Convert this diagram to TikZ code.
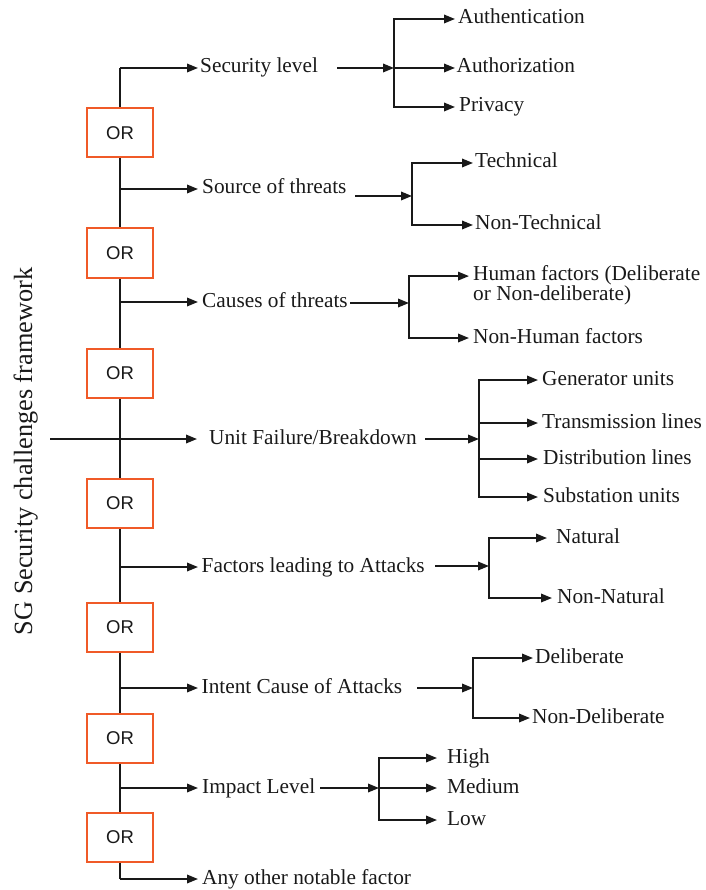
\documentclass[tikz,border=0pt]{standalone}
\usepackage{fontspec}
\setmainfont{Liberation Serif}
\newfontfamily\orfont{Liberation Sans}
\usetikzlibrary{arrows.meta}
\definecolor{orline}{RGB}{240,90,40}
\definecolor{inkc}{RGB}{25,25,25}
\begin{document}
\begin{tikzpicture}[x=1pt,y=-1pt,
  ln/.style={line width=1.8pt, draw=inkc},
  arr/.style={ln, -{Triangle[length=11pt,width=8.5pt]}},
  lbl/.style={anchor=west, inner ysep=1pt, inner xsep=#1, text=inkc,
    font=\fontsize{21.3}{24}\selectfont, text height=15pt, text depth=5pt},
  lbl/.default=2pt,
  lbltwo/.style={anchor=west, inner ysep=0pt, inner xsep=#1, align=left, text=inkc,
    font=\fontsize{21.3}{20}\selectfont},
  orbox/.style={draw=orline, line width=2pt, fill=white, minimum width=66pt,
    minimum height=49pt, inner sep=0pt, text=inkc, font=\orfont\fontsize{18.5}{20}\selectfont},
  sidelabel/.style={rotate=90, anchor=base, inner sep=0pt, text=inkc,
    font=\fontsize{26.3}{28}\selectfont}
]
\useasboundingbox (0,0) rectangle (705,890);

% side label
\node[sidelabel] (title) at (32,451.5) {SG Security challenges framework};

% main spine
\coordinate (top) at (120,68);
\coordinate (bot) at (120,879);
\draw[ln] (top) -- (bot);

% first-level items
\node[lbl=2pt] (sec) at (198,68) {Security level};
\draw[arr] (top) -- (sec.west);

\coordinate (m2) at (120,189);
\node[lbl=4pt] (src) at (198,189) {Source of threats};
\draw[arr] (m2) -- (src.west);

\coordinate (m3) at (120,302);
\node[lbl=4pt] (cau) at (198,302) {Causes of threats};
\draw[arr] (m3) -- (cau.west);

\coordinate (uin) at (50,439);
\node[lbl=12pt] (unit) at (197,439) {Unit Failure/Breakdown};
\draw[arr] (uin) -- (unit.west);

\coordinate (m5) at (120,567);
\node[lbl=3.5pt] (fac) at (198,567) {Factors leading to Attacks};
\draw[arr] (m5) -- (fac.west);

\coordinate (m6) at (120,688);
\node[lbl=3.5pt] (int) at (198,688) {Intent Cause of Attacks};
\draw[arr] (m6) -- (int.west);

\coordinate (m7) at (120,788);
\node[lbl=4pt] (imp) at (198,788) {Impact Level};
\draw[arr] (m7) -- (imp.west);

\node[lbl=4pt] (any) at (198,879) {Any other notable factor};
\draw[arr] (bot) -- (any.west);

% OR gates
\foreach \i/\yy in {1/133,2/253,3/373,4/503,5/627,6/738,7/837}{
  \node[orbox] (or\i) at (120,\yy) {OR};
}

% Security level branch
\coordinate (s1) at (337,68);
\coordinate (b1) at (394,68);
\draw[arr] (s1) -- (b1);
\node[lbl=3pt] (auth) at (455,19) {Authentication};
\node[lbl=1.5pt] (authz) at (455,68) {Authorization};
\node[lbl=4pt] (priv) at (455,107) {Privacy};
\draw[arr] (b1) |- (auth.west);
\draw[arr] (b1) -- (authz.west);
\draw[arr] (b1) |- (priv.west);

% Source of threats branch
\coordinate (s2) at (355,196);
\coordinate (b2) at (412,196);
\draw[arr] (s2) -- (b2);
\node[lbl=2pt] (tech) at (473,163) {Technical};
\node[lbl=2pt] (ntech) at (473,225) {Non-Technical};
\draw[arr] (b2) |- (tech.west);
\draw[arr] (b2) |- (ntech.west);

% Causes of threats branch
\coordinate (s3) at (350,303);
\coordinate (b3) at (409,303);
\draw[arr] (s3) -- (b3);
\node[lbltwo=4pt] (hum) at (469,285.5) {Human factors (Deliberate\\or Non-deliberate)};
\node[lbl=4pt] (nhum) at (469,338) {Non-Human factors};
\draw[arr] (b3) |- ([yshift=9.4pt]hum.west);
\draw[arr] (b3) |- (nhum.west);

% Unit failure branch
\coordinate (s4) at (425,439);
\coordinate (b4) at (479,439);
\draw[arr] (s4) -- (b4);
\node[lbl=4pt] (gen) at (538,380) {Generator units};
\node[lbl=4pt] (tra) at (538,423) {Transmission lines};
\node[lbl=5pt] (dis) at (538,459) {Distribution lines};
\node[lbl=5pt] (sub) at (538,497) {Substation units};
\draw[arr] (b4) |- (gen.west);
\draw[arr] (b4) |- (tra.west);
\draw[arr] (b4) |- (dis.west);
\draw[arr] (b4) |- (sub.west);

% Factors leading to attacks branch
\coordinate (s5) at (435,566);
\coordinate (b5) at (489,566);
\draw[arr] (s5) -- (b5);
\node[lbl=9pt] (nat) at (547,538) {Natural};
\node[lbl=5pt] (nnat) at (552,598) {Non-Natural};
\draw[arr] (b5) |- (nat.west);
\draw[arr] (b5) |- (nnat.west);

% Intent cause branch
\coordinate (s6) at (417,688);
\coordinate (b6) at (473,688);
\draw[arr] (s6) -- (b6);
\node[lbl=2pt] (del) at (533,658) {Deliberate};
\node[lbl=2pt] (ndel) at (530,718) {Non-Deliberate};
\draw[arr] (b6) |- (del.west);
\draw[arr] (b6) |- (ndel.west);

% Impact level branch
\coordinate (s7) at (320,788);
\coordinate (b7) at (379,788);
\draw[arr] (s7) -- (b7);
\node[lbl=10pt] (hi) at (437,758) {High};
\node[lbl=10pt] (med) at (437,788) {Medium};
\node[lbl=10pt] (low) at (437,820) {Low};
\draw[arr] (b7) |- (hi.west);
\draw[arr] (b7) -- (med.west);
\draw[arr] (b7) |- (low.west);
\end{tikzpicture}
\end{document}
